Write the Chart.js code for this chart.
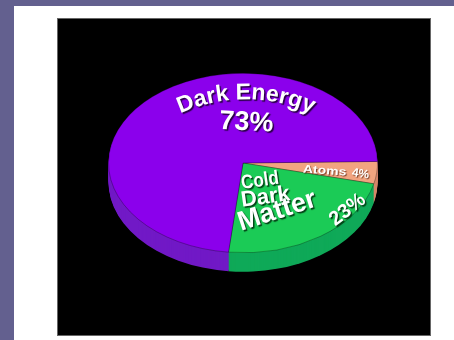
<!DOCTYPE html>
<html>
<head>
<meta charset="utf-8">
<script src="https://cdn.jsdelivr.net/npm/chart.js@4.4.0/dist/chart.umd.min.js"></script>
<style>
  html, body { margin: 0; padding: 0; }
  body { width: 454px; height: 340px; background: #63608f; position: relative; overflow: hidden; }
  #panel { position: absolute; left: 14px; top: 6px; right: 0; bottom: 0; background: #fff; }
  #frame { position: absolute; left: 58px; top: 19px; width: 372px; height: 316px; background: #000; box-shadow: 0 0 0 1px #666; }
  #pie { display: block; }
</style>
</head>
<body>
<div id="panel"></div>
<div id="frame"><canvas id="pie" width="372" height="316"></canvas></div>
<script>
// slices, clockwise from 3 o'clock
const parts = ['Atoms', 'Cold Dark Matter', 'Dark Energy'];
const shares = [4, 23, 73];
const topColors = ['#f2a480', '#1bcb56', '#8b00ec'];
const sideColors = ['#d4876a', '#0fa958', '#7119c6'];

const squash = 0.667;   // top face seen at an angle
const depth = 19;       // thickness of the pie side

function squashAt(ctx, cy, dy) {
  ctx.translate(0, cy + dy);
  ctx.scale(1, squash);
  ctx.translate(0, -cy);
}

const pie3d = {
  id: 'pie3d',
  beforeDatasetsDraw(chart) {
    const ctx = chart.ctx;
    const arcs = chart.getDatasetMeta(0).data;
    for (let d = depth; d >= 1; d--) {
      ctx.save();
      squashAt(ctx, arcs[0].y, d);
      arcs.forEach((arc, i) => {
        const p = arc.getProps(['x', 'y', 'startAngle', 'endAngle', 'outerRadius']);
        ctx.beginPath();
        ctx.moveTo(p.x, p.y);
        ctx.arc(p.x, p.y, p.outerRadius, p.startAngle, p.endAngle);
        ctx.closePath();
        ctx.fillStyle = sideColors[i];
        ctx.fill();
      });
      ctx.restore();
    }
    ctx.save();
    squashAt(ctx, arcs[0].y, 0);
  },
  afterDatasetsDraw(chart) {
    chart.ctx.restore();
  },
  afterDraw(chart) {
    const ctx = chart.ctx;
    const arc = chart.getDatasetMeta(0).data[0];
    const r = arc.outerRadius;
    const at = (fx, fy) => [arc.x + fx * r, arc.y + fy * r * squash];

    ctx.save();
    ctx.fillStyle = '#fff';
    ctx.shadowColor = 'rgba(30,0,50,0.9)';
    ctx.shadowOffsetX = 1.5;
    ctx.shadowOffsetY = 1.5;
    ctx.shadowBlur = 1;

    // curved "Dark Energy"
    let [bx, by] = at(0.022, -0.71);
    arcText(ctx, 'Dark Energy', bx, by, 160, 23);
    [bx, by] = at(0.022, -0.367);
    label(ctx, '73%', bx, by, 27, 3, 'center', 'alphabetic');

    ctx.shadowColor = 'rgba(0,50,15,0.9)';
    [bx, by] = at(-0.007, 0.289);
    label(ctx, 'Cold', bx, by, 17, -8, 'left', 'alphabetic', 1.15);
    [bx, by] = at(-0.007, 0.489);
    label(ctx, 'Dark', bx, by, 22, -8, 'left', 'alphabetic');
    [bx, by] = at(-0.015, 0.756);
    label(ctx, 'Matter', bx, by, 27, -18, 'left', 'alphabetic');
    [bx, by] = at(0.778, 0.522);
    label(ctx, '23%', bx, by, 20, -38, 'center', 'middle');

    ctx.shadowColor = 'rgba(90,40,20,0.8)';
    ctx.shadowOffsetX = 1;
    ctx.shadowOffsetY = 1;
    [bx, by] = at(0.607, 0.089);
    label(ctx, 'Atoms', bx, by, 14, 4, 'center', 'middle', 0.8);
    [bx, by] = at(0.874, 0.122);
    label(ctx, '4%', bx, by, 12, 8, 'center', 'middle');
    ctx.restore();
  }
};

function label(ctx, text, x, y, size, rot, align, base, sy = 1) {
  ctx.save();
  ctx.translate(x, y);
  ctx.rotate(rot * Math.PI / 180);
  ctx.scale(1, sy);
  ctx.font = `bold ${size}px "Liberation Sans", Arial, sans-serif`;
  ctx.textAlign = align;
  ctx.textBaseline = base;
  ctx.fillText(text, 0, 0);
  ctx.restore();
}

function arcText(ctx, text, x, y, R, size) {
  ctx.save();
  ctx.font = `bold ${size}px "Liberation Sans", Arial, sans-serif`;
  ctx.textAlign = 'center';
  ctx.textBaseline = 'alphabetic';
  const total = ctx.measureText(text).width;
  let a0 = -Math.PI / 2 - total / R / 2;
  let acc = 0;
  for (const ch of text) {
    const w = ctx.measureText(ch).width;
    const a = a0 + (acc + w / 2) / R;
    ctx.save();
    ctx.translate(x + R * Math.cos(a), y + R + R * Math.sin(a));
    ctx.rotate(a + Math.PI / 2);
    ctx.fillText(ch, 0, 0);
    ctx.restore();
    acc += w;
  }
  ctx.restore();
}

new Chart(document.getElementById('pie'), {
  type: 'pie',
  data: {
    labels: parts,
    datasets: [{
      data: shares,
      backgroundColor: topColors,
      borderColor: 'rgba(0,0,0,0.35)',
      borderWidth: 1,
      clip: false
    }]
  },
  options: {
    responsive: false,
    animation: false,
    events: [],
    rotation: 89,
    layout: { padding: { left: 50, right: 52, top: 9, bottom: 37 } },
    plugins: { legend: { display: false }, tooltip: { enabled: false } }
  },
  plugins: [pie3d]
});
</script>
</body>
</html>
